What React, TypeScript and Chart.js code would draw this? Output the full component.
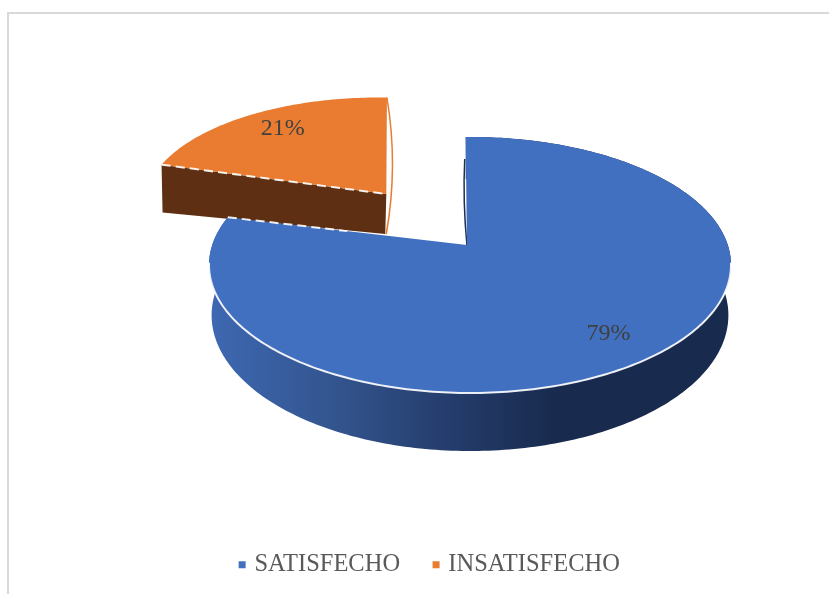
import { useEffect, useRef } from "react";
import { Chart, registerables } from "chart.js";

Chart.register(...registerables);

const categories = ["SATISFECHO", "INSATISFECHO"];
const shares = [79, 21];
const sliceColors = ["#4270c0", "#e97c30"];
const explodePercent = [0, 56];

const SERIF = '"Liberation Serif", "Times New Roman", serif';
const DEG = Math.PI / 180;

// Perspective view of the pie disc: (u, v) are disc coordinates in [-1, 1].
const CENTER_X = 470;
const CENTER_Y = 245;
const HUB_U = -0.012;
const RADIUS_X = 257.8;
const RADIUS_Y = 124.9;
const FORESHORTEN = -0.156;
const THICKNESS = 49;
const BASE_SHRINK = 0.99;

type Pt = [number, number];

const project = (u: number, v: number, base = false): Pt => {
  const w = 1 + FORESHORTEN * v;
  let x = CENTER_X + (RADIUS_X * u) / w;
  let y = CENTER_Y + (RADIUS_Y * v) / w;
  if (base) {
    x = CENTER_X + (x - CENTER_X) * BASE_SHRINK;
    y += THICKNESS / w;
  }
  return [x, y];
};

const trace = (ctx: CanvasRenderingContext2D, pts: Pt[], close = true) => {
  ctx.beginPath();
  pts.forEach(([x, y], i) => (i ? ctx.lineTo(x, y) : ctx.moveTo(x, y)));
  if (close) ctx.closePath();
};

const rimPoints = (a0: number, a1: number, ox: number, oy: number, base = false) => {
  const n = Math.max(2, Math.ceil(Math.abs(a1 - a0) / (1 * DEG)));
  const pts: Pt[] = [];
  for (let i = 0; i <= n; i++) {
    const a = a0 + ((a1 - a0) * i) / n;
    pts.push(project(Math.cos(a) + ox, Math.sin(a) + oy, base));
  }
  return pts;
};

// Draws the pie as an extruded disc from the angles the arc elements hold.
const extrudedPie = {
  id: "extrudedPie",
  beforeDatasetsDraw(chart: any) {
    const ctx: CanvasRenderingContext2D = chart.ctx;
    const arcs = chart.getDatasetMeta(0).data;
    const geo = arcs.map((arc: any) => {
      const mid = (arc.startAngle + arc.endAngle) / 2;
      const k = arc.options.offset / 100;
      return {
        a0: arc.startAngle,
        a1: arc.endAngle,
        mid,
        ox: Math.cos(mid) * k,
        oy: Math.sin(mid) * k,
      };
    });
    const [sat, ins] = geo;

    ctx.save();
    ctx.lineJoin = "round";

    // Detached slice: cut face, then its top, with a slight shear of its own.
    ctx.save();
    ctx.transform(1.00368, 0.0213, 0.0951, 1.01277, -15.76, -10.6);
    const insHubTop = project(HUB_U + ins.ox, ins.oy);
    const insStart = project(Math.cos(ins.a0) + ins.ox, Math.sin(ins.a0) + ins.oy);
    const insHubBase: Pt = [insHubTop[0] - 4.8, insHubTop[1] + 39.5];
    const insStartBase: Pt = [insStart[0] - 3.5, insStart[1] + 47.4];
    ctx.fillStyle = "#5e2f12";
    trace(ctx, [insStart, insHubTop, insHubBase, insStartBase]);
    ctx.fill();

    const insEnd = project(Math.cos(ins.a1) + ins.ox, Math.sin(ins.a1) + ins.oy);
    ctx.strokeStyle = sliceColors[1];
    ctx.lineWidth = 1.5;
    ctx.beginPath();
    ctx.moveTo(insEnd[0], insEnd[1]);
    ctx.quadraticCurveTo(insEnd[0] + 5, (insEnd[1] + insHubBase[1]) / 2, insHubBase[0] + 1, insHubBase[1]);
    ctx.stroke();

    ctx.fillStyle = sliceColors[1];
    trace(ctx, [insHubTop, ...rimPoints(ins.a0, ins.a1, ins.ox, ins.oy)]);
    ctx.fill();

    ctx.strokeStyle = "rgba(255,255,255,0.9)";
    ctx.lineWidth = 2;
    ctx.setLineDash([9, 5]);
    trace(ctx, [insStart, insHubTop], false);
    ctx.stroke();
    ctx.setLineDash([]);
    ctx.restore();

    // Main slice: wall with a left-to-right shade, sliver at the cut, top.
    const shade = ctx.createLinearGradient(210, 0, 620, 0);
    shade.addColorStop(0, "#3e68b2");
    shade.addColorStop(0.3, "#33558f");
    shade.addColorStop(0.55, "#263f70");
    shade.addColorStop(0.85, "#182a4d");
    shade.addColorStop(1, "#182a4d");
    ctx.fillStyle = shade;
    const topRim = rimPoints(sat.a0, sat.a1, 0, 0);
    const baseRim = rimPoints(sat.a0, sat.a1, 0, 0, true);
    trace(ctx, [...topRim, ...baseRim.reverse()]);
    ctx.fill();

    const hub = project(HUB_U, 0);
    const rimStart = topRim[0];
    ctx.strokeStyle = "#1b2f55";
    ctx.lineWidth = 1.5;
    ctx.beginPath();
    ctx.moveTo(rimStart[0] - 1, rimStart[1] + 22);
    ctx.quadraticCurveTo(rimStart[0] - 3, (rimStart[1] + hub[1]) / 2 + 10, hub[0], hub[1]);
    ctx.stroke();

    ctx.fillStyle = sliceColors[0];
    trace(ctx, [hub, ...topRim]);
    ctx.fill();

    // Light edge along the front of the rim and the cut facing the detached slice.
    ctx.strokeStyle = "rgba(255,255,255,0.9)";
    ctx.lineWidth = 2;
    trace(ctx, rimPoints(8 * DEG, 172 * DEG, 0, 0), false);
    ctx.stroke();
    const satEnd = topRim[topRim.length - 1];
    const t = 0.5;
    ctx.setLineDash([9, 5]);
    trace(ctx, [satEnd, [satEnd[0] + (hub[0] - satEnd[0]) * t, satEnd[1] + (hub[1] - satEnd[1]) * t]], false);
    ctx.stroke();
    ctx.setLineDash([]);

    // Percentage labels inside each slice.
    const labelShift: Pt[] = [
      [-9, 0],
      [4, -1],
    ];
    ctx.fillStyle = "#404040";
    ctx.font = `24px ${SERIF}`;
    ctx.textAlign = "center";
    ctx.textBaseline = "middle";
    const total = shares.reduce((s, n) => s + n, 0);
    geo.forEach((g: any, i: number) => {
      const [x, y] = project(Math.cos(g.mid) * 0.82 + g.ox, Math.sin(g.mid) * 0.82 + g.oy);
      ctx.fillText(`${Math.round((shares[i] / total) * 100)}%`, x + labelShift[i][0], y + labelShift[i][1]);
    });

    ctx.restore();
    return false;
  },
};

export default function App() {
  const canvasRef = useRef<HTMLCanvasElement>(null);

  useEffect(() => {
    const chart = new Chart(canvasRef.current!, {
      type: "pie",
      data: {
        labels: categories,
        datasets: [
          {
            data: shares,
            backgroundColor: sliceColors,
            borderWidth: 0,
            offset: explodePercent,
          },
        ],
      },
      options: {
        responsive: false,
        animation: false,
        rotation: -1.1,
        layout: { padding: { left: 33, right: 0, top: 20, bottom: 7 } },
        plugins: {
          tooltip: { enabled: false },
          legend: {
            position: "bottom",
            labels: {
              usePointStyle: true,
              pointStyle: "rect",
              boxWidth: 0.01,
              boxHeight: 7,
              padding: 36,
              color: "#595959",
              font: { family: SERIF, size: 24.5 },
            },
          },
        },
      },
      plugins: [extrudedPie],
    } as any);
    return () => chart.destroy();
  }, []);

  return (
    <div style={{ position: "fixed", inset: 0, background: "#ffffff", overflow: "hidden" }}>
      <div
        style={{
          position: "absolute",
          left: 7,
          top: 12,
          right: 0,
          bottom: 0,
          borderLeft: "2px solid #d9d9d9",
          borderTop: "2px solid #d9d9d9",
        }}
      />
      <canvas
        ref={canvasRef}
        width={829}
        height={594}
        style={{ position: "absolute", left: 0, top: 0, display: "block" }}
      />
    </div>
  );
}
